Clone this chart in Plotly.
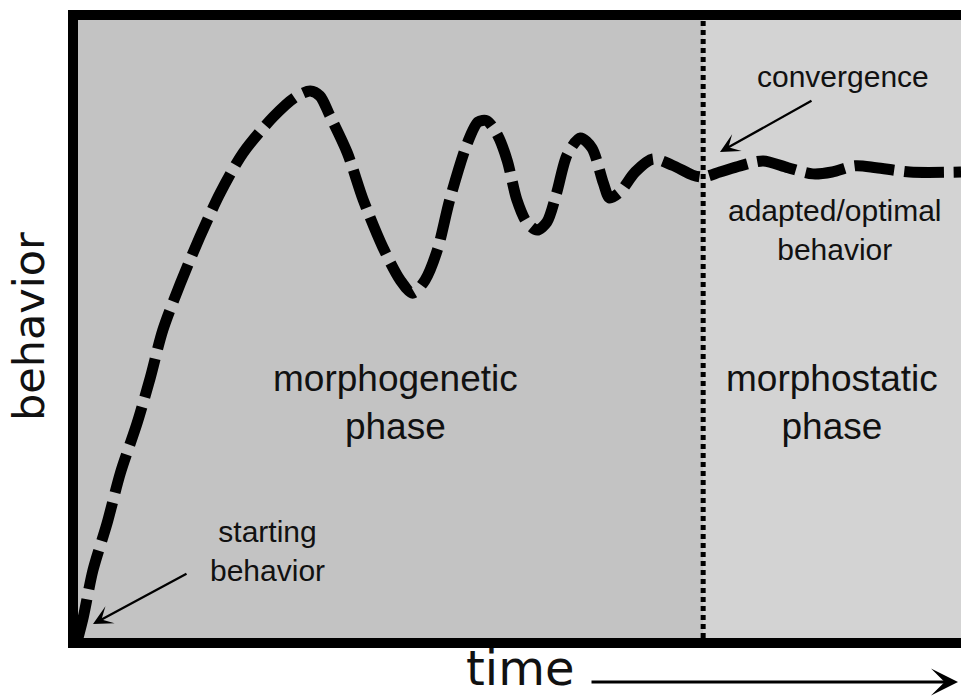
import plotly.graph_objects as go

# ---- data (time / behavior in arbitrary units, 0..100) ----
time_vals = [0.0, 0.6, 1.7, 3.3, 4.8, 6.7, 8.2, 9.6, 11.6, 13.8, 16.1, 18.7, 22.1, 24.6,
             26.3, 27.4, 28.5, 30.5, 32.3, 34.5, 36.5, 37.9, 39.3, 40.7, 42.1, 44.1,
             45.3, 46.3, 47.5, 48.6, 49.7, 50.8, 52.0, 53.1, 54.2, 55.4, 56.9, 58.2,
             59.5, 60.2, 61.4, 63.1, 65.1, 67.3, 69.6, 70.8, 72.7, 75.0, 77.6, 80.4,
             83.2, 85.4, 88.0, 90.4, 94.2, 100.0]
behavior_vals = [0.0, 3.4, 11.0, 18.6, 26.7, 34.8, 42.2, 49.8, 57.4, 64.9, 72.0, 78.5, 84.3,
                 87.5, 88.5, 87.7, 84.6, 78.5, 70.9, 63.3, 57.9, 55.8, 57.9, 62.8, 70.9,
                 80.1, 83.5, 83.7, 81.4, 77.3, 70.9, 67.3, 66.0, 67.3, 72.0, 78.2, 80.9,
                 79.3, 73.6, 71.2, 72.2, 75.4, 77.5, 76.5, 74.9, 74.6, 75.4, 76.4, 77.2,
                 76.1, 75.1, 75.4, 76.4, 76.1, 75.4, 75.4]
convergence_time = 70.8
x_range = [0, 100]
y_range = [0, 100]

phase_labels = ["morphogenetic<br>phase", "morphostatic<br>phase"]
x_label = "time"
y_label = "behavior"

# ---- layout geometry (pixels) ----
W, H = 961, 698
L, R, T, B = 78, 961, 20, 638   # plot area


def pxx(p):
    return (p - L) / (R - L)


def pxy(p):
    return (B - p) / (B - T)


FONT = "Liberation Sans, Arial, sans-serif"
AXFONT = "DejaVu Sans, sans-serif"
DARK = "#c3c3c3"
LIGHT = "#d3d3d3"

fig = go.Figure()
fig.add_trace(go.Scatter(
    x=time_vals, y=behavior_vals, mode="lines",
    line=dict(color="black", width=11, dash="40px,10px", shape="spline", smoothing=0.8),
    hoverinfo="skip", showlegend=False,
))

shapes = [
    dict(type="rect", xref="x", yref="paper", x0=convergence_time, x1=x_range[1], y0=0, y1=1,
         fillcolor=LIGHT, line=dict(width=0), layer="below"),
    dict(type="line", xref="x", yref="paper", x0=convergence_time, x1=convergence_time, y0=0, y1=1,
         line=dict(color="black", width=5, dash="5px,4px"), layer="below"),
    dict(type="rect", xref="paper", yref="paper", x0=pxx(68), x1=pxx(78), y0=pxy(648), y1=pxy(10),
         fillcolor="black", line=dict(width=0), layer="above"),
    dict(type="rect", xref="paper", yref="paper", x0=pxx(68), x1=pxx(961), y0=pxy(20), y1=pxy(10),
         fillcolor="black", line=dict(width=0), layer="above"),
    dict(type="rect", xref="paper", yref="paper", x0=pxx(68), x1=pxx(961), y0=pxy(648), y1=pxy(638),
         fillcolor="black", line=dict(width=0), layer="above"),
]

ann = []


def label(text, cx, cy, size, angle=0, family=FONT):
    ann.append(dict(text=text, x=pxx(cx), y=pxy(cy), xref="paper", yref="paper",
                    xanchor="center", yanchor="middle", showarrow=False, textangle=angle,
                    font=dict(family=family, size=size, color="#111111")))


def arrow(hx, hy, tx, ty, width, size):
    ann.append(dict(text="", x=pxx(hx), y=pxy(hy), xref="paper", yref="paper",
                    ax=tx - hx, ay=ty - hy, axref="pixel", ayref="pixel",
                    showarrow=True, arrowhead=3, arrowsize=size, arrowwidth=width,
                    arrowcolor="black", standoff=0, startstandoff=0))


label(phase_labels[0], 395, 402, 37)
label(phase_labels[1], 832, 402, 37)
label("adapted/optimal<br>behavior", 835, 230, 30)
label("convergence", 843, 76, 30)
label("starting<br>behavior", 267, 551, 30)
label(x_label, 520, 668, 48, family=AXFONT)
label(y_label, 29, 327, 43, angle=-90, family=AXFONT)

arrow(720, 152, 813, 100, 2.3, 1.4)
arrow(93, 624, 188, 573, 2.3, 1.4)
arrow(958, 682, 590, 682, 3, 1.5)

fig.update_layout(
    width=W, height=H,
    margin=dict(l=L, r=W - R, t=T, b=H - B, pad=0),
    paper_bgcolor="white", plot_bgcolor=DARK,
    xaxis=dict(range=x_range, visible=False, fixedrange=True),
    yaxis=dict(range=y_range, visible=False, fixedrange=True),
    shapes=shapes, annotations=ann, showlegend=False,
)

fig.write_html(
    "out.html",
    config={"displayModeBar": False},
    post_script="document.body.style.margin='0';document.body.style.overflow='hidden';",
)
